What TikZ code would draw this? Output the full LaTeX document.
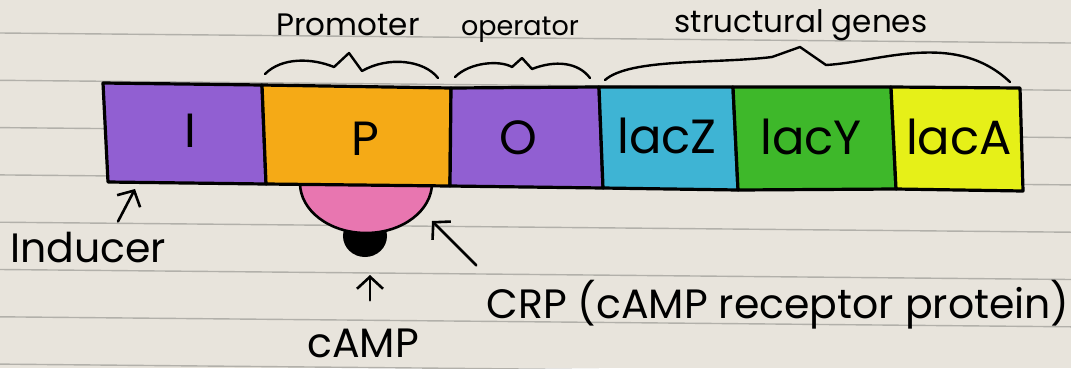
\documentclass[tikz,border=0pt]{standalone}
\usepackage{fontspec}
\setmainfont{Poppins}
\usepackage{tikz}
\usetikzlibrary{arrows.meta}
\usetikzlibrary{calc}

\definecolor{paper}{RGB}{232,228,220}
\definecolor{ruling}{RGB}{178,176,170}
\definecolor{violetgene}{RGB}{145,95,210}
\definecolor{promoorange}{RGB}{245,170,22}
\definecolor{zcyan}{RGB}{62,180,212}
\definecolor{ygreen}{RGB}{62,184,42}
\definecolor{ayellow}{RGB}{230,240,24}
\definecolor{crppink}{RGB}{232,118,176}

\tikzset{
  gene/.style={draw=black, line width=3.2pt, line join=round},
  wavy/.style={draw=black, line width=2.4pt, line cap=round, line join=round},
  pointer/.style={draw=black, line width=2.6pt, line cap=round, line join=round,
    -{Straight Barb[length=12pt, width=26pt]}},
  genename/.style={inner sep=0pt, font=\fontsize{48}{48}\selectfont},
  regionname/.style={inner sep=0pt, font=\fontsize{31}{31}\selectfont},
  notename/.style={inner sep=0pt, font=\fontsize{41}{41}\selectfont},
}

\begin{document}
\begin{tikzpicture}[x=1pt,y=-1pt]
    % notebook page
    \fill[paper] (0,0) rectangle (1071,368);
    \useasboundingbox (0,0) rectangle (1071,368);
    \foreach \y in {33,80.3,127.6,174.9,222.2,269.5,316.8,364.1}
        \draw[ruling, line width=1.4pt] (0,\y) -- (1071,\y+10);

    % cAMP bead and CRP under the promoter
    \draw[fill=black, line width=2pt] (365,236) ellipse[x radius=21, y radius=20];
    \draw[fill=crppink, line width=2.6pt] (366,183) ellipse[x radius=66, y radius=50];

    % corners of the gene boxes
    \coordinate (t0) at (103,83);   \coordinate (b0) at (108,182);
    \coordinate (t1) at (262,85);   \coordinate (b1) at (266,184);
    \coordinate (t2) at (451,88);   \coordinate (b2) at (450,186);
    \coordinate (t3) at (599,87);   \coordinate (b3) at (603,188);
    \coordinate (t4) at (733,87);   \coordinate (b4) at (738,190);
    \coordinate (t5) at (891,87);   \coordinate (b5) at (896,189);
    \coordinate (t6) at (1020,88);  \coordinate (b6) at (1023,191);

    \draw[gene, fill=violetgene]  (t0) -- (t1) -- (b1) -- (b0) -- cycle;
    \draw[gene, fill=promoorange] (t1) -- (t2) -- (b2) -- (b1) -- cycle;
    \draw[gene, fill=violetgene]  (t2) -- (t3) -- (b3) -- (b2) -- cycle;
    \draw[gene, fill=zcyan]       (t3) -- (t4) -- (b4) -- (b3) -- cycle;
    \draw[gene, fill=ygreen]      (t4) -- (t5) -- (b5) -- (b4) -- cycle;
    \draw[gene, fill=ayellow]     (t5) -- (t6) -- (b6) -- (b5) -- cycle;

    \node[genename] (geneI) at (190,131) {I};
    \node[genename] (geneP) at (365,139) {P};
    \node[genename] (geneO) at (518,138) {O};
    \node[genename] (lacZ) at (667,136) {lacZ};
    \node[genename] (lacY) at (811,137) {lacY};
    \node[genename] (lacA) at (959,137) {lacA};

    % hand drawn braces over the regions
    \draw[wavy] (265,74) .. controls (282,57) and (312,58) .. (334,67) -- (349,53) -- (362,71)
        .. controls (388,56) and (424,60) .. (438,78);
    \draw[wavy] (455,77) .. controls (470,62) and (500,60) .. (512,67) -- (522,58) -- (532,69)
        .. controls (555,60) and (578,62) .. (590,78);
    \draw[wavy] (605,80) .. controls (630,58) and (715,64) .. (772,57) -- (800,47) -- (826,65)
        .. controls (880,62) and (955,30) .. (1010,82);

    \node[regionname] (promoter) at (348,25) {Promoter};
    \node[regionname, font=\fontsize{27}{27}\selectfont] (operator) at (520,30) {operator};
    \node[regionname] (structural) at (801,25) {structural genes};

    % what binds where
    \node[notename] (inducer) at (88,248) {Inducer};
    \node[notename] (camp) at (363,343) {cAMP};
    \node[notename] (crp) at (778,305) {CRP (cAMP receptor protein)};

    \coordinate (inducerTip) at (135,189);
    \coordinate (campTip) at (370,275);
    \coordinate (crpTip) at (432,221);

    \draw[pointer] ([shift={(30,-11)}]inducer.north) -- (inducerTip);
    \draw[pointer] ([shift={(7,-28)}]camp.north) -- (campTip);
    \draw[pointer] ([shift={(-10,-15)}]crp.north west) -- (crpTip);
\end{tikzpicture}
\end{document}
